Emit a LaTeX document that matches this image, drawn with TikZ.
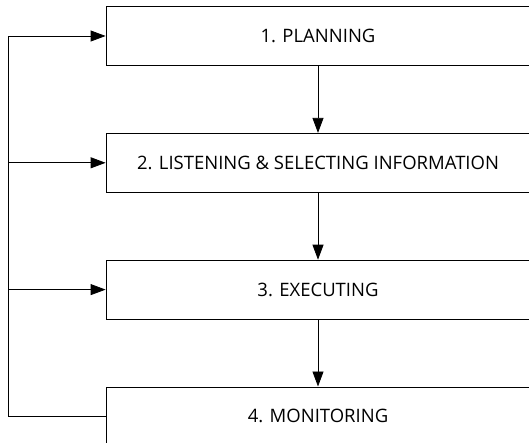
\documentclass[tikz,border=0pt]{standalone}
\usepackage{fontspec}
\setmainfont{Open Sans}
\usetikzlibrary{arrows.meta}
\usetikzlibrary{positioning}

\begin{document}
\begin{tikzpicture}[x=1pt,y=-1pt,
stagebox/.style={rectangle, draw, line width=0.8pt, minimum width=424pt, minimum height=59pt, font=\fontsize{18.5}{22}\selectfont},
flow/.style={-{Triangle[length=15pt,width=11pt]}, line width=0.8pt},
node distance=67pt,
]
\useasboundingbox (0,0) rectangle (529,443);
%Nodes
\node[stagebox]      (planning)                           at (318,36) {1. PLANNING};
\node[stagebox]      (listening)   [below=of planning]   {2. LISTENING \& SELECTING INFORMATION};
\node[stagebox]      (executing)   [below=of listening]  {3. EXECUTING};
\node[stagebox]      (monitoring)  [below=of executing]  {4. MONITORING};
\coordinate          (backline)                           at (8,0);

%Lines
\draw[flow] (planning) -- (listening);
\draw[flow] (listening) -- (executing);
\draw[flow] (executing) -- (monitoring);
\draw[flow] (monitoring.west) -- (monitoring.west -| backline) -- (planning.west -| backline) -- (planning.west);
\draw[flow] (listening.west -| backline) -- (listening.west);
\draw[flow] (executing.west -| backline) -- (executing.west);
\end{tikzpicture}
\end{document}
